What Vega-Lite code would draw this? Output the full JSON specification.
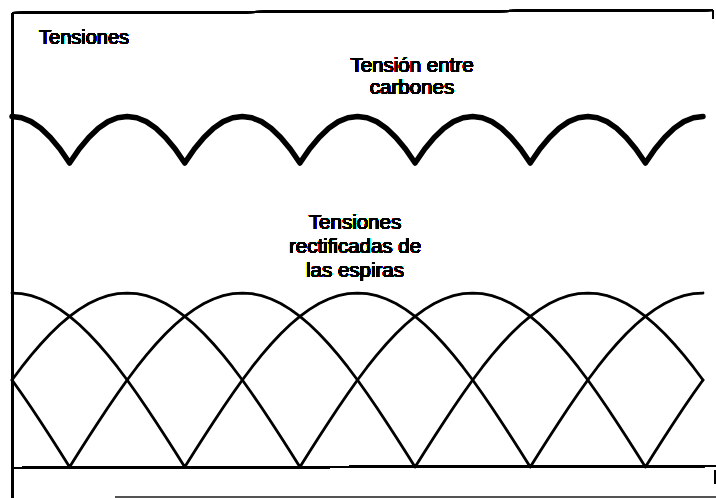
{
  "$schema": "https://vega.github.io/schema/vega-lite/v6.json",
  "autosize": "none",
  "padding": 0,
  "width": 716,
  "height": 498,
  "background": "white",
  "config": {"view": {"stroke": null}},
  "data": {"values": [
    {"t": 0, "a": 1, "b": 0.5, "c": 0.5, "s": 2.015},
    {"t": 5, "a": 0.9962, "b": 0.4226, "c": 0.5736, "s": 2.007},
    {"t": 10, "a": 0.9848, "b": 0.342, "c": 0.6428, "s": 1.985},
    {"t": 15, "a": 0.9659, "b": 0.2588, "c": 0.7071, "s": 1.947},
    {"t": 20, "a": 0.9397, "b": 0.1736, "c": 0.766, "s": 1.894},
    {"t": 25, "a": 0.9063, "b": 0.0872, "c": 0.8192, "s": 1.828},
    {"t": 30, "a": 0.866, "b": 0, "c": 0.866, "s": 1.747},
    {"t": 35, "a": 0.8192, "b": 0.0872, "c": 0.9063, "s": 1.828},
    {"t": 40, "a": 0.766, "b": 0.1736, "c": 0.9397, "s": 1.894},
    {"t": 45, "a": 0.7071, "b": 0.2588, "c": 0.9659, "s": 1.947},
    {"t": 50, "a": 0.6428, "b": 0.342, "c": 0.9848, "s": 1.985},
    {"t": 55, "a": 0.5736, "b": 0.4226, "c": 0.9962, "s": 2.007},
    {"t": 60, "a": 0.5, "b": 0.5, "c": 1, "s": 2.015},
    {"t": 65, "a": 0.4226, "b": 0.5736, "c": 0.9962, "s": 2.007},
    {"t": 70, "a": 0.342, "b": 0.6428, "c": 0.9848, "s": 1.985},
    {"t": 75, "a": 0.2588, "b": 0.7071, "c": 0.9659, "s": 1.947},
    {"t": 80, "a": 0.1736, "b": 0.766, "c": 0.9397, "s": 1.894},
    {"t": 85, "a": 0.0872, "b": 0.8192, "c": 0.9063, "s": 1.828},
    {"t": 90, "a": 0, "b": 0.866, "c": 0.866, "s": 1.747},
    {"t": 95, "a": 0.0872, "b": 0.9063, "c": 0.8192, "s": 1.828},
    {"t": 100, "a": 0.1736, "b": 0.9397, "c": 0.766, "s": 1.894},
    {"t": 105, "a": 0.2588, "b": 0.9659, "c": 0.7071, "s": 1.947},
    {"t": 110, "a": 0.342, "b": 0.9848, "c": 0.6428, "s": 1.985},
    {"t": 115, "a": 0.4226, "b": 0.9962, "c": 0.5736, "s": 2.007},
    {"t": 120, "a": 0.5, "b": 1, "c": 0.5, "s": 2.015},
    {"t": 125, "a": 0.5736, "b": 0.9962, "c": 0.4226, "s": 2.007},
    {"t": 130, "a": 0.6428, "b": 0.9848, "c": 0.342, "s": 1.985},
    {"t": 135, "a": 0.7071, "b": 0.9659, "c": 0.2588, "s": 1.947},
    {"t": 140, "a": 0.766, "b": 0.9397, "c": 0.1736, "s": 1.894},
    {"t": 145, "a": 0.8192, "b": 0.9063, "c": 0.0872, "s": 1.828},
    {"t": 150, "a": 0.866, "b": 0.866, "c": 0, "s": 1.747},
    {"t": 155, "a": 0.9063, "b": 0.8192, "c": 0.0872, "s": 1.828},
    {"t": 160, "a": 0.9397, "b": 0.766, "c": 0.1736, "s": 1.894},
    {"t": 165, "a": 0.9659, "b": 0.7071, "c": 0.2588, "s": 1.947},
    {"t": 170, "a": 0.9848, "b": 0.6428, "c": 0.342, "s": 1.985},
    {"t": 175, "a": 0.9962, "b": 0.5736, "c": 0.4226, "s": 2.007},
    {"t": 180, "a": 1, "b": 0.5, "c": 0.5, "s": 2.015},
    {"t": 185, "a": 0.9962, "b": 0.4226, "c": 0.5736, "s": 2.007},
    {"t": 190, "a": 0.9848, "b": 0.342, "c": 0.6428, "s": 1.985},
    {"t": 195, "a": 0.9659, "b": 0.2588, "c": 0.7071, "s": 1.947},
    {"t": 200, "a": 0.9397, "b": 0.1736, "c": 0.766, "s": 1.894},
    {"t": 205, "a": 0.9063, "b": 0.0872, "c": 0.8192, "s": 1.828},
    {"t": 210, "a": 0.866, "b": 0, "c": 0.866, "s": 1.747},
    {"t": 215, "a": 0.8192, "b": 0.0872, "c": 0.9063, "s": 1.828},
    {"t": 220, "a": 0.766, "b": 0.1736, "c": 0.9397, "s": 1.894},
    {"t": 225, "a": 0.7071, "b": 0.2588, "c": 0.9659, "s": 1.947},
    {"t": 230, "a": 0.6428, "b": 0.342, "c": 0.9848, "s": 1.985},
    {"t": 235, "a": 0.5736, "b": 0.4226, "c": 0.9962, "s": 2.007},
    {"t": 240, "a": 0.5, "b": 0.5, "c": 1, "s": 2.015},
    {"t": 245, "a": 0.4226, "b": 0.5736, "c": 0.9962, "s": 2.007},
    {"t": 250, "a": 0.342, "b": 0.6428, "c": 0.9848, "s": 1.985},
    {"t": 255, "a": 0.2588, "b": 0.7071, "c": 0.9659, "s": 1.947},
    {"t": 260, "a": 0.1736, "b": 0.766, "c": 0.9397, "s": 1.894},
    {"t": 265, "a": 0.0872, "b": 0.8192, "c": 0.9063, "s": 1.828},
    {"t": 270, "a": 0, "b": 0.866, "c": 0.866, "s": 1.747},
    {"t": 275, "a": 0.0872, "b": 0.9063, "c": 0.8192, "s": 1.828},
    {"t": 280, "a": 0.1736, "b": 0.9397, "c": 0.766, "s": 1.894},
    {"t": 285, "a": 0.2588, "b": 0.9659, "c": 0.7071, "s": 1.947},
    {"t": 290, "a": 0.342, "b": 0.9848, "c": 0.6428, "s": 1.985},
    {"t": 295, "a": 0.4226, "b": 0.9962, "c": 0.5736, "s": 2.007},
    {"t": 300, "a": 0.5, "b": 1, "c": 0.5, "s": 2.015},
    {"t": 305, "a": 0.5736, "b": 0.9962, "c": 0.4226, "s": 2.007},
    {"t": 310, "a": 0.6428, "b": 0.9848, "c": 0.342, "s": 1.985},
    {"t": 315, "a": 0.7071, "b": 0.9659, "c": 0.2588, "s": 1.947},
    {"t": 320, "a": 0.766, "b": 0.9397, "c": 0.1736, "s": 1.894},
    {"t": 325, "a": 0.8192, "b": 0.9063, "c": 0.0872, "s": 1.828},
    {"t": 330, "a": 0.866, "b": 0.866, "c": 0, "s": 1.747},
    {"t": 335, "a": 0.9063, "b": 0.8192, "c": 0.0872, "s": 1.828},
    {"t": 340, "a": 0.9397, "b": 0.766, "c": 0.1736, "s": 1.894},
    {"t": 345, "a": 0.9659, "b": 0.7071, "c": 0.2588, "s": 1.947},
    {"t": 350, "a": 0.9848, "b": 0.6428, "c": 0.342, "s": 1.985},
    {"t": 355, "a": 0.9962, "b": 0.5736, "c": 0.4226, "s": 2.007},
    {"t": 360, "a": 1, "b": 0.5, "c": 0.5, "s": 2.015}
  ]},
  "layer": [
    {
      "mark": {"type": "line", "color": "black", "strokeWidth": 5.5, "strokeCap": "round", "strokeJoin": "round"},
      "encoding": {
        "x": {"field": "t", "type": "quantitative", "axis": null, "scale": {"domain": [-6.25, 366.77], "nice": false, "zero": false}},
        "y": {"field": "s", "type": "quantitative", "axis": null, "scale": {"domain": [-0.178, 2.684], "nice": false, "zero": false}}
      }
    },
    {
      "mark": {"type": "line", "color": "black", "strokeWidth": 2.8, "strokeCap": "round", "strokeJoin": "round"},
      "encoding": {
        "x": {"field": "t", "type": "quantitative", "axis": null},
        "y": {"field": "a", "type": "quantitative", "axis": null}
      }
    },
    {
      "mark": {"type": "line", "color": "black", "strokeWidth": 2.8, "strokeCap": "round", "strokeJoin": "round"},
      "encoding": {
        "x": {"field": "t", "type": "quantitative", "axis": null},
        "y": {"field": "b", "type": "quantitative", "axis": null}
      }
    },
    {
      "mark": {"type": "line", "color": "black", "strokeWidth": 2.8, "strokeCap": "round", "strokeJoin": "round"},
      "encoding": {
        "x": {"field": "t", "type": "quantitative", "axis": null},
        "y": {"field": "c", "type": "quantitative", "axis": null}
      }
    },
    {
      "mark": {"type": "rule", "color": "black", "strokeWidth": 2.5},
      "encoding": {"x": {"datum": 0.26}, "y": {"datum": 2.609}, "x2": {"datum": 0.26}, "y2": {"datum": -0.178}}
    },
    {
      "mark": {"type": "rule", "color": "black", "strokeWidth": 2},
      "encoding": {"x": {"datum": 0.26}, "y": {"datum": 2.609}, "x2": {"datum": 365.2}, "y2": {"datum": 2.626}}
    },
    {
      "mark": {"type": "rule", "color": "black", "strokeWidth": 2},
      "encoding": {"x": {"datum": 0.26}, "y": {"datum": -0.006}, "x2": {"datum": 366.77}, "y2": {"datum": 0.006}}
    },
    {
      "mark": {"type": "rule", "color": "#555555", "strokeWidth": 1.2},
      "encoding": {"x": {"datum": 53.7}, "y": {"datum": -0.17}, "x2": {"datum": 366.77}, "y2": {"datum": -0.17}}
    },
    {
      "mark": {"type": "rule", "color": "black", "strokeWidth": 1.5},
      "encoding": {"x": {"datum": 365.3}, "y": {"datum": 2.626}, "x2": {"datum": 365.3}, "y2": {"datum": 2.575}}
    },
    {
      "mark": {"type": "rule", "color": "black", "strokeWidth": 1.5},
      "encoding": {"x": {"datum": 366.2}, "y": {"datum": -0.017}, "x2": {"datum": 366.2}, "y2": {"datum": -0.098}}
    },
    {
      "mark": {"type": "text", "text": "Tensiones", "align": "left", "baseline": "alphabetic", "font": "Liberation Sans", "fontSize": 20, "color": "black"},
      "encoding": {"x": {"datum": 14.07}, "y": {"datum": 2.431}}
    },
    {
      "mark": {"type": "text", "text": ["Tensión entre", "carbones"], "align": "center", "baseline": "alphabetic", "lineHeight": 22, "font": "Liberation Sans", "fontSize": 20.5, "color": "black"},
      "encoding": {"x": {"datum": 208.4}, "y": {"datum": 2.270}}
    },
    {
      "mark": {"type": "text", "text": ["Tensiones", "rectificadas de", "las espiras"], "align": "center", "baseline": "alphabetic", "lineHeight": 24, "font": "Liberation Sans", "fontSize": 20.5, "color": "black"},
      "encoding": {"x": {"datum": 178.7}, "y": {"datum": 1.368}}
    }
  ]
}
